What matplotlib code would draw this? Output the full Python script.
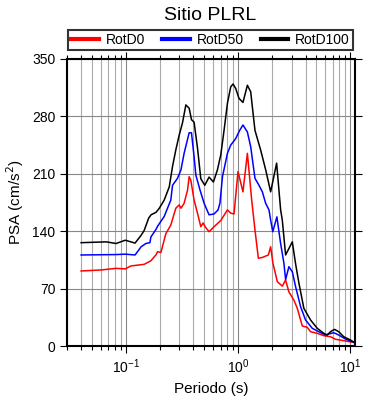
import matplotlib
matplotlib.use("Agg")
import matplotlib.pyplot as plt
from matplotlib.ticker import LogLocator, NullFormatter, MultipleLocator

plt.rcParams['font.family'] = ['Liberation Sans', 'DejaVu Sans']

title = "Sitio PLRL"
xlabel = "Periodo (s)"
ylabel = "PSA (cm/s$^2$)"
labels = ["RotD0", "RotD50", "RotD100"]
colors = ["#ff0000", "#0000ff", "#000000"]

t_d100 = [0.04, 0.067, 0.082, 0.099, 0.121, 0.137, 0.146, 0.16, 0.168, 0.186, 0.199, 0.22,
          0.244, 0.261, 0.279, 0.299, 0.32, 0.343, 0.367, 0.385, 0.406, 0.436, 0.466, 0.506,
          0.552, 0.604, 0.656, 0.702, 0.751, 0.805, 0.861, 0.903, 0.954, 1.02, 1.107, 1.212,
          1.297, 1.416, 1.591, 1.763, 1.953, 2.208, 2.397, 2.48, 2.655, 3.045, 3.26, 3.49,
          3.86, 4.43, 5.08, 5.81, 6.23, 6.67, 7.24, 7.9, 8.75, 10.04, 11.0]
psa_d100 = [126, 127, 125, 129, 125.5, 135, 141, 156, 160, 163, 168, 178,
            194, 219, 239, 257, 272, 294, 290, 276, 273, 241, 204, 196,
            206, 200, 215, 233, 263, 296, 316, 319.5, 314, 302, 297, 318,
            310, 263, 239, 215, 188, 223, 166, 153.6, 111, 127, 100, 76.5,
            46, 31.7, 21.6, 15.5, 13.4, 17.4, 20.3, 17.4, 11.3, 7.3, 4]

t_d50 = [0.04, 0.082, 0.099, 0.121, 0.137, 0.151, 0.164, 0.1675, 0.1855, 0.192, 0.22, 0.252,
         0.261, 0.289, 0.31, 0.331, 0.367, 0.385, 0.406, 0.421, 0.459, 0.499, 0.552, 0.612,
         0.664, 0.69, 0.727, 0.805, 0.861, 0.954, 1.035, 1.107, 1.212, 1.297, 1.416, 1.537,
         1.648, 1.763, 1.887, 1.953, 2.04, 2.22, 2.397, 2.564, 2.655, 2.84, 3.045, 3.26,
         3.61, 3.998, 4.585, 5.25, 6.02, 6.44, 7.13, 7.9, 9.06, 11.0]
psa_d50 = [111, 111.5, 112, 111, 121, 125, 126, 133, 142, 146, 158, 178,
           196, 204.5, 214.6, 235, 260, 260, 231, 208.5, 190, 174, 160, 161,
           166, 174, 206.5, 235, 245, 253, 263, 269.5, 261, 243, 204.5, 196,
           188, 174, 166, 153.6, 139.4, 157.5, 125, 101, 81, 96.7, 90.6, 72.3,
           48, 31.7, 21.6, 17.4, 13.4, 14.6, 16.2, 13.4, 8.5, 4]

t_d0 = [0.04, 0.06, 0.082, 0.099, 0.111, 0.146, 0.1675, 0.1855, 0.192, 0.2056, 0.2276, 0.252,
        0.279, 0.299, 0.31, 0.331, 0.355, 0.367, 0.38, 0.406, 0.4356, 0.466, 0.489, 0.509,
        0.552, 0.612, 0.702, 0.805, 0.861, 0.921, 1.0, 1.107, 1.212, 1.324, 1.416, 1.518,
        1.648, 1.863, 1.953, 2.047, 2.24, 2.48, 2.655, 2.84, 3.145, 3.373, 3.737, 4.14,
        4.43, 5.08, 5.81, 6.67, 7.39, 8.75, 11.0]
psa_d0 = [91.5, 92.7, 94.7, 94, 97.6, 99.6, 104, 111, 115, 114, 137, 147.5,
          168, 172, 168, 174, 190, 206.5, 202, 178, 162, 145.5, 150, 145.5,
          139.4, 145.5, 153, 166, 162, 161, 212.6, 188, 235, 178, 141.5, 107,
          108, 111, 121, 101, 78.4, 73, 80.5, 66, 56, 46, 24.4, 22.8,
          17.4, 15.5, 12.6, 11.3, 8.2, 6.5, 4]

fig = plt.figure(figsize=(3.9, 4.0), dpi=100)
ax = fig.add_axes([0.172, 0.135, 0.738, 0.7175])

series = [(t_d0, psa_d0), (t_d50, psa_d50), (t_d100, psa_d100)]
for (t, p), lab, c in zip(series, labels, colors):
    ax.plot(t, p, color=c, lw=1.1, label=lab, zorder=3)

ax.set_xscale('log')
ax.set_xlim(0.03, 11)
ax.set_ylim(0, 350)
ax.yaxis.set_major_locator(MultipleLocator(70))
ax.xaxis.set_major_locator(LogLocator(base=10, numticks=10))
ax.xaxis.set_minor_locator(LogLocator(base=10, subs=range(2, 10), numticks=20))
ax.xaxis.set_minor_formatter(NullFormatter())

ax.grid(True, which='major', axis='both', color='#888888', lw=0.8)
ax.grid(True, which='minor', axis='x', color='#aaaaaa', lw=0.8)

for s in ax.spines.values():
    s.set_linewidth(1.5)
ax.tick_params(which='both', direction='out', top=True, right=True,
               labelsize=10, width=0.8)
ax.tick_params(which='major', length=5)
ax.tick_params(which='minor', length=3)

ax.set_xlabel(xlabel, fontsize=11)
ax.set_ylabel(ylabel, fontsize=11)
fig.text(0.54, 0.962, title, ha='center', va='center', fontsize=14)

leg = fig.legend(loc='center', bbox_to_anchor=(0.54, 0.9), ncol=3, fontsize=10,
                 frameon=True, fancybox=False, edgecolor='black',
                 handlelength=2.0, handletextpad=0.5, columnspacing=1.2,
                 borderpad=0.25)
leg.get_frame().set_linewidth(1.5)
for h in leg.get_lines():
    h.set_linewidth(3)

fig.savefig("out.png", dpi=100)
